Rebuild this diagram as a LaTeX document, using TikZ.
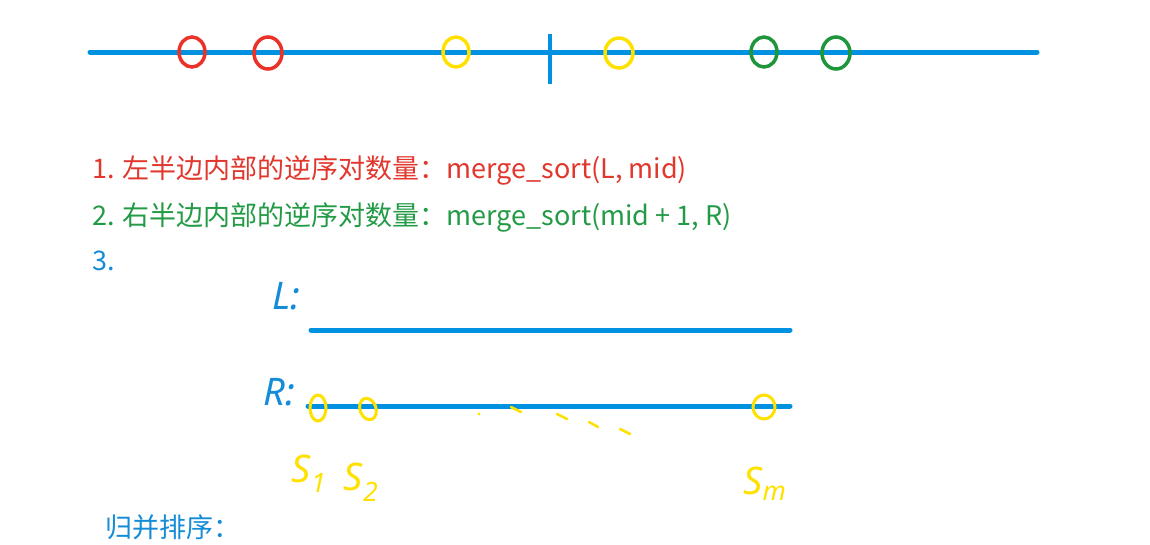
\documentclass[tikz,border=0pt]{standalone}
\usepackage{fontspec}
\newfontfamily\cjk{Noto Sans CJK SC}
\newfontfamily\handfont{Noto Sans}
\definecolor{lblue}{RGB}{0,145,224}
\definecolor{tblue}{RGB}{20,140,215}
\definecolor{cred}{RGB}{235,50,40}
\definecolor{tred}{RGB}{225,55,45}
\definecolor{cyel}{RGB}{255,225,0}
\definecolor{cgreen}{RGB}{30,150,60}
\definecolor{tgreen}{RGB}{35,155,70}
\tikzset{
  axis/.style={lblue, line width=5pt, line cap=round},
  ring/.style={line width=3.5pt},
  txt/.style={anchor=base west, inner sep=0pt, font=\cjk\fontsize{27}{32}\selectfont},
  hand/.style={inner sep=0pt, font=\handfont\itshape\fontsize{38}{44}\selectfont},
  dot/.style={cyel, line width=2.5pt, line cap=round}
}
\begin{document}
\begin{tikzpicture}[x=1pt,y=-1pt]
\useasboundingbox[fill=white] (0,0) rectangle (1150,544);
% top number line
\coordinate (a0) at (90,52);
\coordinate (a1) at (1037,52);
\draw[axis] (a0) -- (a1);
\coordinate (t0) at (550,34);
\coordinate (t1) at (550,84);
\draw[lblue, line width=3.5pt] (t0) -- (t1);
\draw[ring, cred] (192,52) ellipse [x radius=13, y radius=15];
\draw[ring, cred] (268,53) ellipse [x radius=14, y radius=16];
\draw[ring, cyel] (456,52) ellipse [x radius=13, y radius=15];
\draw[ring, cyel] (619,53) ellipse [x radius=14, y radius=15];
\draw[ring, cgreen] (764,52) ellipse [x radius=13, y radius=15];
\draw[ring, cgreen] (836,53) ellipse [x radius=14, y radius=16];
% text lines
\node[txt, tred] (l1) at (92,178) {1. 左半边内部的逆序对数量：merge\_sort(L, mid)};
\node[txt, tgreen] (l2) at (92,225) {2. 右半边内部的逆序对数量：merge\_sort(mid + 1, R)};
\node[txt, tblue] (l3) at (92,270) {3.};
% L and R lines
\node[hand, tblue] (lL) at (286,296) {L:};
\node[hand, tblue] (lR) at (279,392) {R:};
\coordinate (L0) at (311,330);
\coordinate (L1) at (790,330);
\draw[axis] (L0) -- (L1);
\coordinate (R0) at (308,406);
\coordinate (R1) at (790,406);
\draw[axis] (R0) -- (R1);
\draw[ring, cyel, line width=3pt] (318,408) ellipse [x radius=8, y radius=13];
\draw[ring, cyel, line width=3pt, rotate around={20:(368,409)}] (368,409) ellipse [x radius=8, y radius=11];
\draw[ring, cyel, line width=3pt] (764,407) ellipse [x radius=11, y radius=12];
\fill[cyel] (479,414) circle (1.6);
\draw[dot] (511,407) -- (521,412);
\draw[dot] (557,414) -- (567,419);
\draw[dot] (589,422) -- (598,427);
\draw[dot] (620,429) -- (630,434);
\node[hand, cyel] (s1) at (309,474) {S\textsubscript{1}};
\node[hand, cyel] (s2) at (361,482) {S\textsubscript{2}};
\node[hand, cyel] (sm) at (765,484) {S\textsubscript{m}};
% bottom caption
\node[txt, tblue] (cap) at (105,537) {归并排序：};
\end{tikzpicture}
\end{document}
